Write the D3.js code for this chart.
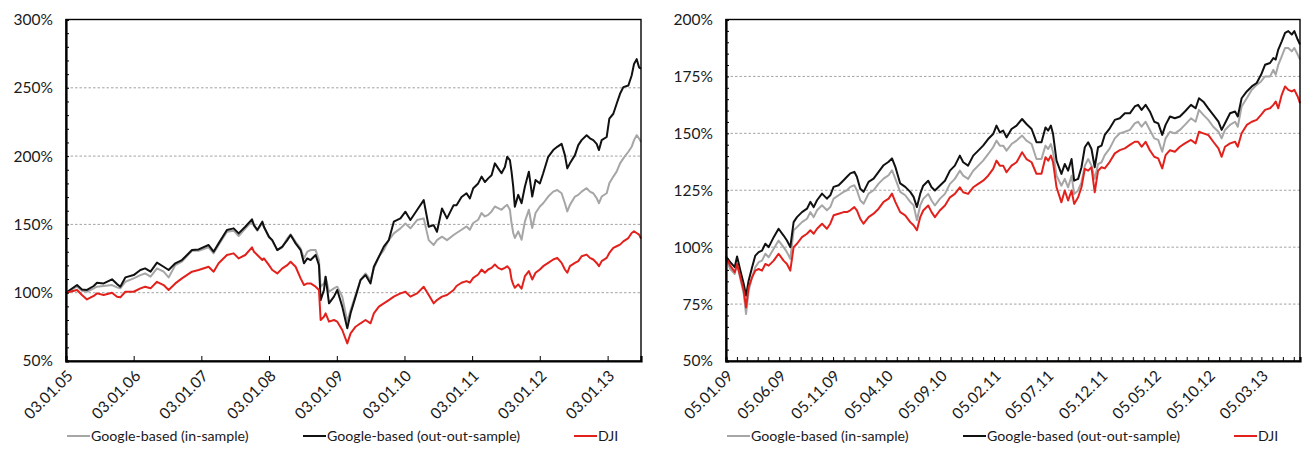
<!DOCTYPE html>
<html>
<head>
<meta charset="utf-8">
<script src="https://cdn.jsdelivr.net/npm/d3@7/dist/d3.min.js"></script>
<style>
    html, body { margin: 0; padding: 0; background: #fff; }
    svg text {
        font-family: Lato, "Liberation Sans", sans-serif;
        font-size: 15.5px;
        fill: #1a1a1a;
    }
    svg text.legend-label { font-size: 14.2px; }
</style>
</head>
<body>
<svg id="chart" width="1311" height="456"></svg>
<script>
"use strict";

// ------------------------- Data (dates as decimal years) -------------------------

const seriesNames = ['Google-based (in-sample)', 'Google-based (out-out-sample)', 'DJI'];

const leftDates = [
    2005.005, 2005.168, 2005.241, 2005.315, 2005.415, 2005.463, 2005.562, 2005.685, 2005.759, 2005.808,
    2005.882, 2006.005, 2006.105, 2006.175, 2006.255, 2006.350, 2006.448, 2006.522, 2006.621, 2006.719,
    2006.867, 2006.965, 2007.113, 2007.187, 2007.261, 2007.384, 2007.483, 2007.557, 2007.655, 2007.754,
    2007.784, 2007.833, 2007.907, 2007.931, 2008.005, 2008.054, 2008.128, 2008.202, 2008.275, 2008.324,
    2008.398, 2008.472, 2008.521, 2008.570, 2008.619, 2008.693, 2008.742, 2008.767, 2008.816, 2008.840,
    2008.890, 2008.963, 2009.012, 2009.086, 2009.160, 2009.209, 2009.283, 2009.356, 2009.430, 2009.504,
    2009.553, 2009.627, 2009.700, 2009.774, 2009.848, 2009.946, 2010.020, 2010.093, 2010.192, 2010.290,
    2010.364, 2010.437, 2010.486, 2010.560, 2010.634, 2010.732,
    2010.775, 2010.849, 2010.923, 2010.972, 2011.022, 2011.095, 2011.145, 2011.194, 2011.243, 2011.293,
    2011.342, 2011.391, 2011.440, 2011.490, 2011.524, 2011.564, 2011.588, 2011.613, 2011.637, 2011.687,
    2011.736, 2011.786, 2011.844, 2011.894, 2011.943, 2012.007, 2012.056, 2012.130, 2012.204, 2012.263,
    2012.327, 2012.376, 2012.411, 2012.450, 2012.524, 2012.573, 2012.622, 2012.696, 2012.745, 2012.794,
    2012.844, 2012.878, 2012.918, 2012.992, 2013.031, 2013.090, 2013.139, 2013.189, 2013.238, 2013.312,
    2013.361, 2013.396, 2013.435, 2013.470, 2013.499
];

const leftInSample = [
    100, 104.4, 101.5, 100.7, 103.2, 104.4, 104.9, 105.6, 103.9, 103.2,
    108, 110.5, 112.9, 114.1, 111.7, 117.8, 115.4, 111.2, 120.2, 122.7,
    130.7, 130.7, 133.2, 128.8, 134.9, 144.6, 145.4, 141.5, 147, 152,
    148.8, 145.4, 151.2, 147.8, 140.5, 138, 131.2, 133.2, 139.8, 142.7,
    137.3, 132.4, 125.1, 130, 131.2, 131.2, 123.9, 104.4, 106.8, 111.7,
    100.7, 103.2, 104.4, 97.1, 78.8, 87.3, 98.3, 109.3, 114.1, 109.3,
    117.8, 126.3, 131.2, 138.5, 143.4, 147.1, 150.7, 147.1, 153.2, 154.4,
    138.5, 134.9, 138.5, 141, 138.5, 142.2,
    143.7, 146.1, 148.5, 146.1, 151, 153.4, 158.3, 155.8, 157, 159.5,
    163.1, 161.9, 160.7, 163.1, 164.3, 160.7, 151, 143.7, 140, 144.9,
    138.8, 152.2, 160.7, 147.3, 158.3, 163.1, 165.5, 170.4, 174, 175.2,
    172.8, 165.5, 159.5, 164.3, 170.4, 171.6, 174, 176.5, 174, 172.8,
    169.2, 165.5, 170.4, 172.8, 180.1, 185, 188.6, 194.7, 198.3, 203.2,
    206.8, 211.7, 215.3, 212.9, 210.4
];

const leftOutSample = [
    100, 105.6, 102.4, 102, 104.9, 107.3, 106.8, 109.8, 106.3, 104.4,
    111.2, 112.9, 116.6, 117.8, 115.4, 122, 119, 116.6, 121.5, 123.9,
    131.2, 131.7, 134.9, 130, 136.1, 145.9, 147.1, 143.4, 148.3, 153.7,
    149.5, 145.9, 152, 148.3, 141, 138.5, 131.2, 133.7, 138.5, 142.2,
    136.1, 131.2, 121.5, 125.1, 123.9, 127.6, 120.2, 94.6, 102, 111.7,
    92.2, 97.1, 102, 89.8, 73.9, 84.9, 97.1, 109.3, 112.9, 106.8,
    119, 126.3, 133.7, 138.5, 152, 154.4, 159.3, 153.2, 160.5, 167.8,
    148.3, 149.5, 144.6, 161.7, 154.4, 164.1,
    164, 170, 172.8, 169, 176.5, 180, 185, 181, 183.7, 186,
    194.7, 191, 187.4, 192, 199.5, 197, 188.6, 177.7, 163, 171.6,
    165.5, 177.7, 188.6, 170.4, 182.5, 180, 187.4, 199.5, 204.4, 206.8,
    209, 200.7, 191, 194.7, 200.7, 208, 211.7, 215.3, 213, 211.7,
    209, 204.4, 211.7, 214, 227.4, 231, 238.3, 245.6, 250.5, 251.7,
    259, 267.5, 271, 265, 264
];

const leftDji = [
    100, 102, 98.3, 95.1, 97.6, 99.5, 98.3, 100, 97.1, 96.6,
    100.7, 100.7, 103.2, 104.4, 103.2, 108, 105.6, 102, 106.8, 110.5,
    115.4, 116.6, 119, 115.4, 121.5, 127.6, 128.8, 125.1, 127.6, 133.2,
    130, 127.6, 123.9, 125.1, 120.2, 116.6, 114.1, 117.8, 120.2, 122.7,
    119, 110.5, 105.6, 106.8, 106.8, 104.4, 102, 80, 82.4, 84.9,
    78.8, 80, 78.8, 72.7, 62.9, 70.2, 75.1, 77.6, 80, 77.6,
    84.9, 89.8, 92.2, 94.6, 97.1, 99.5, 100.7, 97.1, 99.5, 104.4,
    98.3, 92.2, 94.6, 97.1, 98.3, 102,
    104.9, 107.3, 108.5, 107.3, 110.9, 113.3, 117, 114.6, 117, 118.2,
    120.6, 118.2, 117, 118.2, 119.4, 117, 109.7, 106.1, 103.6, 106.1,
    102.9, 112.1, 115.8, 109.7, 114.6, 117, 119.4, 121.8, 124.3, 125.5,
    121.8, 117, 114.6, 119.4, 121.8, 123.1, 126.7, 127.9, 125.5, 124.3,
    121.8, 119.4, 123.1, 125.5, 129.1, 132.8, 134, 135.2, 137.6, 140,
    143.7, 144.9, 143.7, 142.5, 139.6
];

const rightDates = [
    2009.011, 2009.044, 2009.079, 2009.097, 2009.123, 2009.149, 2009.167, 2009.187, 2009.214, 2009.239,
    2009.265, 2009.291, 2009.317, 2009.343, 2009.382, 2009.420, 2009.459, 2009.485, 2009.511, 2009.537,
    2009.563, 2009.602, 2009.641, 2009.667, 2009.693, 2009.719, 2009.758, 2009.796, 2009.822, 2009.848,
    2009.887, 2009.926, 2009.952, 2009.978, 2010.009, 2010.029, 2010.055, 2010.081, 2010.120, 2010.159,
    2010.198, 2010.237, 2010.276, 2010.302, 2010.328, 2010.366, 2010.405, 2010.444, 2010.470, 2010.496,
    2010.522,
    2010.545, 2010.584, 2010.610, 2010.636, 2010.674, 2010.714, 2010.753, 2010.791, 2010.830, 2010.856,
    2010.894, 2010.934, 2010.973, 2011.011, 2011.050, 2011.089, 2011.115, 2011.141, 2011.167, 2011.193,
    2011.232, 2011.271, 2011.314, 2011.348, 2011.388, 2011.426, 2011.465, 2011.496, 2011.517, 2011.538,
    2011.555, 2011.582, 2011.620, 2011.646, 2011.672, 2011.699, 2011.719, 2011.750, 2011.776, 2011.802,
    2011.828, 2011.854, 2011.879, 2011.905, 2011.932,
    2011.957, 2011.996, 2012.035, 2012.074, 2012.113, 2012.152, 2012.190, 2012.216, 2012.243, 2012.274,
    2012.307, 2012.341, 2012.372, 2012.403, 2012.429, 2012.463, 2012.501, 2012.540, 2012.579, 2012.626,
    2012.662, 2012.688, 2012.722, 2012.760, 2012.799, 2012.839, 2012.864, 2012.890, 2012.929, 2012.968,
    2012.989, 2013.019, 2013.059, 2013.098, 2013.136, 2013.170, 2013.201, 2013.240, 2013.266, 2013.284,
    2013.304, 2013.331, 2013.357, 2013.382, 2013.409, 2013.429, 2013.455, 2013.473
];

const rightInSample = [
    94.9, 90.4, 88.2, 92.6, 86, 79.4, 70.6, 80.9, 86.8, 91.2,
    93.4, 94.1, 97.1, 95.6, 99.3, 102.9, 100, 97.8, 94.9, 107.4,
    108.8, 111, 112.5, 115.4, 113.2, 116.2, 118.4, 116.2, 117.6, 121.3,
    122.8, 124.3, 125, 126.5, 127.2, 125, 120.6, 119.1, 123.5, 125,
    127.9, 130.1, 131.6, 133.8, 130.1, 124.3, 122.8, 119.9, 118.4, 111.8,
    118.4,
    121.2, 123.4, 120.5, 118.3, 121.2, 123.4, 127.8, 130, 133.6, 131.4,
    130, 133.6, 135.8, 138, 140.9, 143.9, 146.8, 144.6, 144.6, 142.4,
    145.3, 146.8, 149, 146.8, 145.3, 138.7, 138.7, 144.6, 143.1, 145.3,
    141.7, 131.4, 127, 130, 126.3, 131.4, 123.4, 124.9, 128.5, 135.8,
    138.7, 135.8, 130, 136.5, 137.3,
    140.4, 143.4, 147.8, 150, 150.7, 151.5, 154.4, 155.1, 152.9, 155.1,
    151.5, 147.8, 147.1, 141.9, 147.8, 150.7, 150, 151.5, 153.7, 156.6,
    155.1, 160.3, 158.1, 155.9, 152.9, 150.7, 147.8, 151.5, 153.7, 155.1,
    152.9, 161.8, 165.4, 169.1, 171.3, 172.8, 175, 175, 177.9, 175.7,
    180.1, 183.8, 187.5, 187.5, 186, 187.5, 184.6, 182.4
];

const rightOutSample = [
    95.9, 93.4, 91.2, 95.9, 89.7, 83.8, 78.7, 85.3, 91.2, 96.3,
    97.8, 98.5, 101.5, 100, 104.4, 108.1, 105.1, 102.9, 100, 111,
    113.2, 115.4, 116.9, 119.9, 117.6, 120.6, 123.5, 121.3, 122.8, 126.5,
    127.2, 129.4, 130.9, 132.4, 133.1, 130.9, 125.7, 124.3, 128.7, 130.1,
    133.1, 136, 137.5, 139, 135.3, 128, 126.5, 124.3, 122.1, 117.6,
    123.5,
    127, 129.2, 126.3, 124.9, 127, 129.2, 133.6, 135.8, 140.2, 137.3,
    135.8, 140.2, 142.4, 144.6, 147.5, 149.7, 153.4, 150.4, 151.2, 148.2,
    151.9, 153.4, 156.3, 154.1, 151.9, 146.1, 146.1, 152.6, 151.2, 153.4,
    149.7, 138, 132.2, 136.5, 133.6, 138.7, 129.2, 130, 135.1, 143.9,
    146.1, 143.1, 135.1, 143.9, 144.6,
    149.3, 152.2, 155.9, 156.6, 158.8, 158.8, 161.8, 162.5, 160.3, 162.5,
    159.6, 155.1, 154.4, 149.3, 153.7, 157.4, 156.6, 157.4, 159.6, 162.5,
    161, 165.4, 163.9, 161, 158.1, 155.1, 151.5, 154.4, 158.8, 159.6,
    157.4, 165.4, 168.4, 170.6, 172.1, 175.7, 180.1, 180.9, 183.1, 182.4,
    186.8, 190.4, 194.1, 194.9, 193.4, 194.9, 191.2, 189
];

const rightDji = [
    95.6, 91.9, 89, 92.6, 86.8, 80.9, 73.5, 82.4, 86.8, 89.7,
    90.4, 89.7, 92.6, 91.9, 94.1, 97.1, 94.1, 92.6, 89.7, 100,
    101.5, 104.4, 105.9, 107.4, 105.9, 108.1, 110.3, 108.1, 110.3, 114,
    114.7, 115.4, 115.4, 116.2, 117.6, 116.2, 112.5, 110.3, 113.2, 114.7,
    116.9, 119.9, 121.3, 123.5, 119.9, 115.4, 114, 111, 109.6, 107.4,
    113.2,
    116.1, 118.3, 115.4, 113.2, 116.1, 118.3, 121.9, 123.4, 126.3, 124.1,
    123.4, 126.3, 127.8, 129.2, 131.4, 134.4, 138, 135.8, 135.8, 132.9,
    135.8, 137.3, 141.7, 138.7, 137.3, 132.2, 132.2, 139.5, 138, 140.2,
    137.3, 126.3, 119.7, 124.9, 120.5, 124.9, 119, 121.9, 126.3, 134.4,
    133.6, 135.1, 124.1, 133.6, 135.1,
    134.6, 137.5, 141.2, 142.6, 143.4, 144.9, 146.3, 146.3, 144.1, 146.3,
    142.6, 139.7, 139, 134.6, 140.4, 142.6, 141.9, 144.1, 145.6, 147.1,
    145.6, 150.7, 150, 149.3, 146.3, 143.4, 139.7, 144.1, 145.6, 146.3,
    144.1, 150, 153.7, 155.1, 155.9, 158.1, 160.3, 161, 162.5, 164,
    161, 166.9, 170.6, 169.1, 168.4, 169.1, 166.2, 163.2
];

const leftTickDates = ['2005-01-03', '2006-01-03', '2007-01-03', '2008-01-03', '2009-01-03',
    '2010-01-03', '2011-01-03', '2012-01-03', '2013-01-03'];
const rightTickDates = ['2009-01-05', '2009-06-05', '2009-11-05', '2010-04-05', '2010-09-05', '2011-02-05',
    '2011-07-05', '2011-12-05', '2012-05-05', '2012-10-05', '2013-03-05'];
const leftYTicks = [50, 100, 150, 200, 250, 300];
const rightYTicks = [50, 75, 100, 125, 150, 175, 200];


// ------------------------- Setup -------------------------

const parseDate = d3.utcParse('%Y-%m-%d');
const formatTick = d3.utcFormat('%d.%m.%y');
const seriesColors = ['#a6a6a6', '#111111', '#e2211c'];

const svg = d3.select('#chart');

drawPanel(svg, {
    left: 66, right: 641, top: 19.5, bottom: 361,
    start: 2005.005, end: 2013.499,
    dates: leftDates,
    series: [leftInSample, leftOutSample, leftDji],
    majorX: leftTickDates.map(parseDate),
    minorX: null,
    yTicks: leftYTicks,
    yMinorStep: 10
});

drawPanel(svg, {
    left: 726, right: 1300, top: 19.5, bottom: 361,
    start: 2009.011, end: 2013.473,
    dates: rightDates,
    series: [rightInSample, rightOutSample, rightDji],
    majorX: rightTickDates.map(parseDate),
    minorX: 'month',
    yTicks: rightYTicks,
    yMinorStep: 5
});


// ------------------------- Drawing Helpers -------------------------

function fromDecimalYear(value) {
    const year = Math.floor(value);
    const start = Date.UTC(year, 0, 1);
    const end = Date.UTC(year + 1, 0, 1);
    return new Date(start + (value - year) * (end - start));
}

function drawPanel(root, cfg) {
    const g = root.append('g');
    const x = d3.scaleUtc()
        .domain([fromDecimalYear(cfg.start), fromDecimalYear(cfg.end)])
        .range([cfg.left, cfg.right]);
    const yMin = d3.min(cfg.yTicks);
    const yMax = d3.max(cfg.yTicks);
    const y = d3.scaleLinear()
        .domain([yMin, yMax])
        .range([cfg.bottom, cfg.top]);

    // dashed gridlines on the inner major ticks
    g.append('g')
        .selectAll('line')
        .data(cfg.yTicks.filter(v => v !== yMin && v !== yMax))
        .join('line')
        .attr('x1', cfg.left).attr('x2', cfg.right)
        .attr('y1', v => y(v)).attr('y2', v => y(v))
        .attr('stroke', '#8c8c8c')
        .attr('stroke-width', 0.8)
        .attr('stroke-dasharray', '2.5,2');

    // series lines
    const line = d3.line()
        .x(d => x(d[0]))
        .y(d => y(d[1]));

    cfg.series.forEach((values, i) => {
        const points = d3.zip(cfg.dates.map(fromDecimalYear), values);
        g.append('path')
            .datum(points)
            .attr('fill', 'none')
            .attr('stroke', seriesColors[i])
            .attr('stroke-width', 2)
            .attr('stroke-linejoin', 'round')
            .attr('d', line);
    });

    // frame
    g.append('rect')
        .attr('x', cfg.left).attr('y', cfg.top)
        .attr('width', cfg.right - cfg.left)
        .attr('height', cfg.bottom - cfg.top)
        .attr('fill', 'none')
        .attr('stroke', '#000')
        .attr('stroke-width', 1.4);

    // y axis: minor ticks pointing inside, labels on majors
    const yAxis = d3.axisLeft(y)
        .tickValues(d3.range(yMin, yMax + 0.1, cfg.yMinorStep))
        .tickSize(-3)
        .tickFormat('');
    const yAxisG = g.append('g')
        .attr('transform', `translate(${cfg.left},0)`)
        .call(yAxis);
    styleAxis(yAxisG);

    g.append('g')
        .selectAll('text')
        .data(cfg.yTicks)
        .join('text')
        .attr('x', cfg.left - 13)
        .attr('y', v => y(v))
        .attr('dy', '0.35em')
        .attr('text-anchor', 'end')
        .text(v => `${v}%`);

    // x axis: ticks pointing up inside the plot
    const xTickValues = cfg.minorX === 'month'
        ? d3.utcMonth.range(x.domain()[0], x.domain()[1]).map(d => d3.utcDay.offset(d, 4))
            .filter(d => d >= x.domain()[0])
        : cfg.majorX;
    const xAxis = d3.axisBottom(x)
        .tickValues(xTickValues)
        .tickSize(cfg.minorX === 'month' ? -4 : -5)
        .tickFormat('');
    const xAxisG = g.append('g')
        .attr('transform', `translate(0,${cfg.bottom})`)
        .call(xAxis);
    styleAxis(xAxisG);

    g.append('g')
        .selectAll('text')
        .data(cfg.majorX)
        .join('text')
        .attr('transform', d => `translate(${x(d) + 4},${cfg.bottom + 12}) rotate(-45)`)
        .attr('dy', '0.35em')
        .attr('text-anchor', 'end')
        .text(d => formatTick(d));

    drawLegend(g, cfg.left, 436);
}

function styleAxis(axisG) {
    axisG.select('.domain')
        .attr('stroke', '#000')
        .attr('stroke-width', 2.2);
    axisG.selectAll('.tick line')
        .attr('stroke', '#000')
        .attr('stroke-width', 1);
}

function drawLegend(g, left, yPos) {
    const offsets = [1, 237, 508];
    const items = g.append('g')
        .selectAll('g')
        .data(seriesNames)
        .join('g')
        .attr('transform', (d, i) => `translate(${left + offsets[i]},${yPos})`);

    items.append('line')
        .attr('x1', 0).attr('x2', 23)
        .attr('stroke', (d, i) => seriesColors[i])
        .attr('stroke-width', 2);

    items.append('text')
        .classed('legend-label', true)
        .attr('x', 24)
        .attr('dy', '0.35em')
        .text(d => d);
}
</script>
</body>
</html>
